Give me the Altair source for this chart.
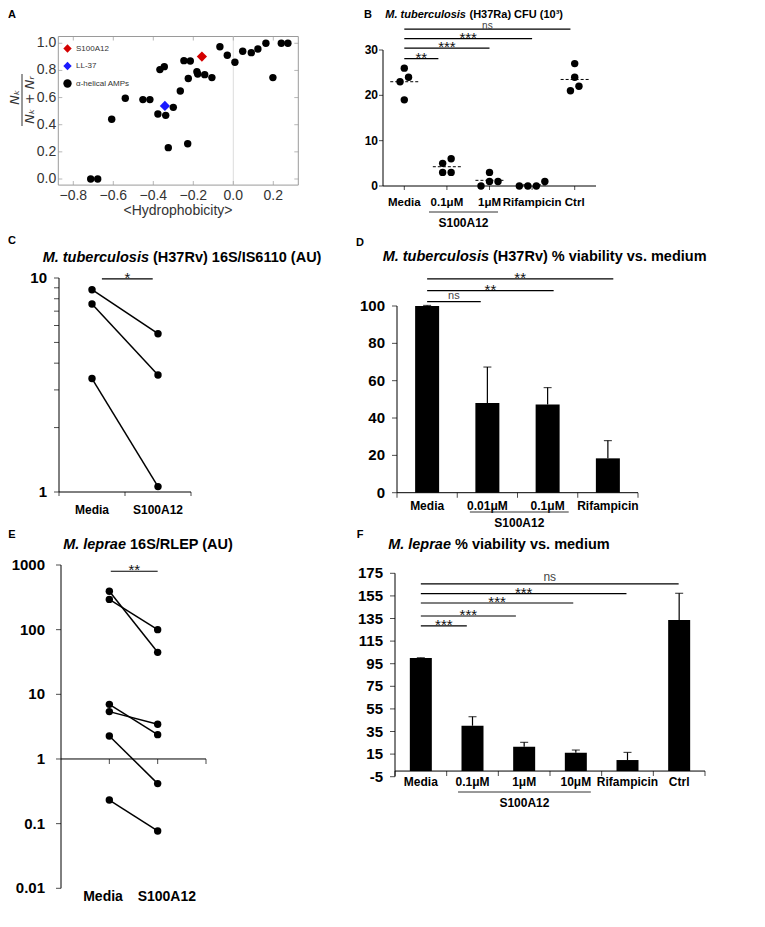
import altair as alt
import pandas as pd

W, H = 749, 900
FONT = "Liberation Sans"

# ======================= DATA =======================
# Panel A
A_amp_x = [-0.713, -0.678, -0.608, -0.540, -0.452, -0.417, -0.367, -0.345, -0.377, -0.338,
           -0.325, -0.300, -0.265, -0.247, -0.215, -0.225, -0.228, -0.182, -0.178, -0.143,
           -0.107, -0.067, -0.030, 0.008, 0.047, 0.090, 0.123, 0.163, 0.198, 0.240, 0.273]
A_amp_y = [0.0, 0.0, 0.44, 0.595, 0.585, 0.585, 0.806, 0.828, 0.479, 0.469,
           0.231, 0.528, 0.649, 0.872, 0.870, 0.740, 0.260, 0.791, 0.774, 0.769,
           0.747, 0.975, 0.912, 0.860, 0.941, 0.931, 0.958, 1.0, 0.747, 1.0, 1.0]
A_series = ["S100A12", "LL-37", "α-helical AMPs"]
A_hl_x = [-0.157, -0.342]
A_hl_y = [0.902, 0.538]
A_xticks = [-0.8, -0.6, -0.4, -0.2, 0.0, 0.2]
A_yticks = [0.0, 0.2, 0.4, 0.6, 0.8, 1.0]

# Panel B
B_groups = ["Media", "0.1μM", "1μM", "Rifampicin", "Ctrl"]
B_values = [[24, 26, 23, 19], [6, 5, 3, 3], [1, 3, 0, 1], [0, 0, 0, 1], [27, 24, 21, 22]]
B_sig_end = [0.8, 2.0, 3.0, 3.9]
B_sig_y = [28.1, 30.4, 32.5, 34.6]
B_sig_txt = ["**", "***", "***", "ns"]
B_yticks = [0, 10, 20, 30]
B_bracket = [0.58, 2.2]

# Panel C
C_groups = ["Media", "S100A12"]
C_media = [8.82, 7.56, 3.39]
C_s100 = [5.49, 3.52, 1.06]
C_sig_start = 0.65
C_sig_end = [1.42]
C_sig_y = [9.9]
C_sig_txt = ["*"]
C_yticks = [1, 2, 3, 4, 5, 6, 7, 8, 9, 10]
C_ylabels = [1, 10]

# Panel D
D_groups = ["Media", "0.01μM", "0.1μM", "Rifampicin"]
D_mean = [100, 48.0, 47.3, 18.4]
D_err = [0.3, 19.3, 9.0, 9.5]
D_sig_end = [1.39, 2.6, 3.59]
D_sig_y = [102.3, 108.2, 114.5]
D_sig_txt = ["ns", "**", "**"]
D_yticks = [0, 20, 40, 60, 80, 100]
D_bracket = [1.21, 2.85]

# Panel E
E_groups = ["Media", "S100A12"]
E_label_pos = [0.87, 2.19]
E_media = [392, 294, 7.0, 5.4, 2.27, 0.232]
E_s100 = [44.6, 100, 2.38, 3.44, 0.416, 0.077]
E_sig_start = 1.03
E_sig_end = [2.0]
E_sig_y = [800]
E_sig_txt = ["**"]
E_yticks = [0.01, 0.1, 1, 10, 100, 1000]

# Panel F
F_groups = ["Media", "0.1μM", "1μM", "10μM", "Rifampicin", "Ctrl"]
F_mean = [100, 40.1, 21.6, 16.2, 9.75, 133.7]
F_err = [0.3, 8.0, 3.8, 2.4, 6.75, 23.6]
F_sig_end = [1.39, 2.34, 3.45, 4.48, 5.49]
F_sig_y = [128.4, 137.2, 148.7, 157.0, 165.6]
F_sig_txt = ["***", "***", "***", "***", "ns"]
F_yticks = [-5, 15, 35, 55, 75, 95, 115, 135, 155, 175]
F_bracket = [1.22, 3.79]

# ======================= LAYOUT (pixels of the plot group) =======================
LAY = {
    "A": dict(xr=[50.3, 290.3], yr=[177.1, 28.5], xd=[-0.875, 0.325], yd=[-0.045, 1.05]),
    "B": dict(xr=[375, 588], yr=[178, 42], xd=[-0.5, 4.5], yd=[0, 30]),
    "C": dict(xr=[51, 183], yr=[484, 270], xd=[0, 2], yd=[1, 10], log=True),
    "D": dict(xr=[384, 635], yr=[484.7, 298], xd=[0, 4], yd=[0, 100]),
    "E": dict(xr=[53, 198], yr=[880.3, 557], xd=[0, 3], yd=[0.01, 1000], log=True),
    "F": dict(xr=[382, 702], yr=[768.7, 565.3], xd=[0, 6], yd=[-5, 175]),
}


def xs(p):
    L = LAY[p]
    return alt.Scale(domain=L["xd"], range=L["xr"], nice=False, zero=False)


def ys(p):
    L = LAY[p]
    if L.get("log"):
        return alt.Scale(type="log", domain=L["yd"], range=L["yr"], nice=False)
    return alt.Scale(domain=L["yd"], range=L["yr"], nice=False, zero=False)


def X(p, f):
    return alt.X(f, type="quantitative", scale=xs(p), axis=None)


def Y(p, f):
    return alt.Y(f, type="quantitative", scale=ys(p), axis=None)


def yaxis_marks(p, tick_values, label_values, labels, size=15, dx=-12, tick=5,
                color="black", weight="bold", domain=True):
    L = LAY[p]
    x0 = L["xd"][0]
    out = []
    if domain:
        out.append(alt.Chart(pd.DataFrame({"x": [x0], "a": [L["yd"][0]], "b": [L["yd"][1]]})).mark_rule(
            color="black", strokeWidth=1).encode(x=X(p, "x"), y=Y(p, "a"), y2="b"))
    if tick:
        out.append(alt.Chart(pd.DataFrame({"v": tick_values, "x": x0})).mark_tick(
            orient="horizontal", size=tick, thickness=1, xOffset=-tick / 2, color="black").encode(
            x=X(p, "x"), y=Y(p, "v")))
    out.append(alt.Chart(pd.DataFrame({"v": label_values, "t": labels, "x": x0})).mark_text(
        align="right", baseline="middle", dx=dx, font=FONT, fontSize=size, fontWeight=weight,
        color=color).encode(x=X(p, "x"), y=Y(p, "v"), text="t:N"))
    return out


def xaxis_marks(p, base, label_values, labels, size=12, dy=13, tick=0, tick_values=None,
                domain=True, color="black", weight="bold"):
    L = LAY[p]
    out = []
    if domain:
        out.append(alt.Chart(pd.DataFrame({"a": [L["xd"][0]], "b": [L["xd"][1]], "y": [base]})).mark_rule(
            color="black", strokeWidth=1).encode(x=X(p, "a"), x2="b", y=Y(p, "y")))
    if tick:
        out.append(alt.Chart(pd.DataFrame({"v": tick_values, "y": base})).mark_tick(
            orient="vertical", size=tick, thickness=1, yOffset=tick / 2, color="black").encode(
            x=X(p, "v"), y=Y(p, "y")))
    out.append(alt.Chart(pd.DataFrame({"v": label_values, "t": labels, "y": base})).mark_text(
        align="center", baseline="middle", dy=dy, font=FONT, fontSize=size, fontWeight=weight,
        color=color).encode(x=X(p, "v"), y=Y(p, "y"), text="t:N"))
    return out


def text_at(s, x, y, size=12, weight="bold", style="normal", align="center", color="black",
            font=FONT, angle=None):
    kw = dict(align=align, baseline="middle", fontSize=size, fontWeight=weight,
              fontStyle=style, color=color, font=font)
    if angle:
        kw["angle"] = angle
    return alt.Chart(pd.DataFrame({"t": [s]})).mark_text(**kw).encode(
        x=alt.value(x), y=alt.value(y), text="t:N")


def sig_layers(p, start, ends, yv, txts, ns_size=12, ns_dy=-3):
    df = pd.DataFrame({"s": start, "e": ends, "y": yv, "t": txts})
    df["m"] = (df["s"] + df["e"]) / 2
    out = [alt.Chart(df).mark_rule(color="black", strokeWidth=1.2).encode(
        x=X(p, "s"), x2="e", y=Y(p, "y"))]
    st = df[df["t"] != "ns"]
    ns = df[df["t"] == "ns"]
    if len(st):
        out.append(alt.Chart(st).mark_text(font=FONT, fontSize=15, baseline="alphabetic", dy=4,
                                           color="#111").encode(x=X(p, "m"), y=Y(p, "y"), text="t:N"))
    if len(ns):
        out.append(alt.Chart(ns).mark_text(font=FONT, fontSize=ns_size, baseline="alphabetic", dy=ns_dy,
                                           color="#444").encode(x=X(p, "m"), y=Y(p, "y"), text="t:N"))
    return out


def bracket(p, ab, line_px, text_px):
    df = pd.DataFrame({"a": [ab[0]], "b": [ab[1]], "t": ["S100A12"]})
    df["m"] = (df["a"] + df["b"]) / 2
    return [
        alt.Chart(df).mark_rule(color="#333", strokeWidth=1).encode(
            x=X(p, "a"), x2="b", y=alt.value(line_px)),
        alt.Chart(df).mark_text(font=FONT, fontSize=12, fontWeight="bold", baseline="middle").encode(
            x=X(p, "m"), y=alt.value(text_px), text="t:N"),
    ]


def fmt1(v):
    return f"{v:.1f}".replace("-", "−")


# ======================= PANEL A =======================
LA = LAY["A"]
A_frame = alt.Chart(pd.DataFrame({"x0": [LA["xd"][0]], "x1": [LA["xd"][1]],
                                  "y0": [LA["yd"][0]], "y1": [LA["yd"][1]]})).mark_rect(
    fillOpacity=0, stroke="#9a9a9a", strokeWidth=1).encode(
    x=X("A", "x0"), x2="x1", y=Y("A", "y0"), y2="y1")
A_zero = alt.Chart(pd.DataFrame({"x": [0.0], "y0": [LA["yd"][0]], "y1": [LA["yd"][1]]})).mark_rule(
    color="#dddddd", strokeWidth=1).encode(x=X("A", "x"), y=Y("A", "y0"), y2="y1")
A_tl = alt.Chart(pd.DataFrame({"v": A_yticks, "e": LA["xd"][0]})).mark_tick(
    orient="horizontal", size=4, thickness=1, color="#999", xOffset=2).encode(x=X("A", "e"), y=Y("A", "v"))
A_tr = alt.Chart(pd.DataFrame({"v": A_yticks, "e": LA["xd"][1]})).mark_tick(
    orient="horizontal", size=4, thickness=1, color="#999", xOffset=-2).encode(x=X("A", "e"), y=Y("A", "v"))
A_tb = alt.Chart(pd.DataFrame({"v": A_xticks, "e": LA["yd"][0]})).mark_tick(
    orient="vertical", size=4, thickness=1, color="#999", yOffset=-2).encode(x=X("A", "v"), y=Y("A", "e"))
A_tt = alt.Chart(pd.DataFrame({"v": A_xticks, "e": LA["yd"][1]})).mark_tick(
    orient="vertical", size=4, thickness=1, color="#999", yOffset=2).encode(x=X("A", "v"), y=Y("A", "e"))

A_leg = alt.Legend(orient="none", legendX=55, legendY=36, title=None, labelFont=FONT,
                   labelFontSize=8, labelColor="#333", symbolSize=70, rowPadding=8.5, padding=0,
                   labelOffset=4, direction="vertical", symbolStrokeWidth=0)
A_col = alt.Color("series:N", scale=alt.Scale(domain=A_series, range=["#d40000", "#1a1aff", "black"]),
                  legend=A_leg)
A_shp = alt.Shape("series:N", scale=alt.Scale(domain=A_series, range=["diamond", "diamond", "circle"]),
                  legend=A_leg)
A_amp = alt.Chart(pd.DataFrame({"x": A_amp_x, "y": A_amp_y, "series": A_series[2]})).mark_point(
    filled=True, opacity=1, strokeWidth=0, size=55).encode(
    x=X("A", "x"), y=Y("A", "y"), color=A_col, shape=A_shp)
A_hl = alt.Chart(pd.DataFrame({"x": A_hl_x, "y": A_hl_y, "series": A_series[:2]})).mark_point(
    filled=True, opacity=1, strokeWidth=0, size=105).encode(
    x=X("A", "x"), y=Y("A", "y"), color=A_col, shape=A_shp)
A_yax = yaxis_marks("A", [], A_yticks, [fmt1(v) for v in A_yticks], size=14, dx=-2, tick=0,
                    color="#333", weight="normal", domain=False)
A_xax = xaxis_marks("A", LA["yd"][0], A_xticks, [fmt1(v) for v in A_xticks], size=14, dy=11,
                    domain=False, color="#333", weight="normal")
panelA = alt.layer(A_frame, A_zero, A_tl, A_tr, A_tb, A_tt, A_amp, A_hl, *A_yax, *A_xax)

# ======================= PANEL B =======================
LB = LAY["B"]
B_xppu = (LB["xr"][1] - LB["xr"][0]) / (LB["xd"][1] - LB["xd"][0])
B_yppu = (LB["yr"][0] - LB["yr"][1]) / (LB["yd"][1] - LB["yd"][0])


def swarm(vals, yppu, gap):
    order = sorted(range(len(vals)), key=lambda i: vals[i])
    offs = [0.0] * len(vals)
    clusters, cur = [], [order[0]]
    for a, b in zip(order, order[1:]):
        if (vals[b] - vals[a]) * yppu < gap:
            cur.append(b)
        else:
            clusters.append(cur)
            cur = [b]
    clusters.append(cur)
    for c in clusters:
        n = len(c)
        for k, i in enumerate(c):
            offs[i] = (k - (n - 1) / 2) * gap
    return offs


B_rows, B_means = [], []
for gi, vals in enumerate(B_values):
    offs = swarm(vals, B_yppu, 8.5)
    for v, o in zip(vals, offs):
        B_rows.append({"x": gi + o / B_xppu, "v": v})
    B_means.append({"x0": gi - 0.33, "x1": gi + 0.33, "m": sum(vals) / len(vals)})

B_pos = list(range(len(B_groups)))
B_pts = alt.Chart(pd.DataFrame(B_rows)).mark_circle(size=55, color="black", opacity=1).encode(
    x=X("B", "x"), y=Y("B", "v"))
B_mean = alt.Chart(pd.DataFrame(B_means)).mark_rule(color="black", strokeWidth=1, strokeDash=[3, 2]).encode(
    x=X("B", "x0"), x2="x1", y=Y("B", "m"))
panelB = alt.layer(
    *yaxis_marks("B", B_yticks, B_yticks, [str(v) for v in B_yticks], size=12, dx=-5, tick=4),
    *xaxis_marks("B", 0, B_pos, B_groups, size=11.5, dy=17, tick=4, tick_values=B_pos),
    B_pts, B_mean, *sig_layers("B", 0.0, B_sig_end, B_sig_y, B_sig_txt, ns_size=10, ns_dy=0.3),
    *bracket("B", B_bracket, 204, 215))

# ======================= PANEL C =======================
LC = LAY["C"]


def pairs_df(a, b, xa, xb):
    rows = []
    for i, (u, v) in enumerate(zip(a, b)):
        rows += [{"pair": i, "x": xa, "v": u}, {"pair": i, "x": xb, "v": v}]
    return pd.DataFrame(rows)


C_df = pairs_df(C_media, C_s100, 0.5, 1.5)
C_line = alt.Chart(C_df).mark_line(color="black", strokeWidth=1.5).encode(
    x=X("C", "x"), y=Y("C", "v"), detail="pair:N")
C_pts = alt.Chart(C_df).mark_circle(size=55, color="black", opacity=1).encode(x=X("C", "x"), y=Y("C", "v"))
panelC = alt.layer(
    *yaxis_marks("C", C_yticks, C_ylabels, [str(v) for v in C_ylabels], size=15, dx=-12, tick=5),
    *xaxis_marks("C", LC["yd"][0], [0.5, 1.5], C_groups, size=12, dy=18, tick=4, tick_values=[0, 1, 2]),
    C_line, C_pts, *sig_layers("C", C_sig_start, C_sig_end, C_sig_y, C_sig_txt))

# ======================= PANEL D =======================
D_pos = [i + 0.5 for i in range(len(D_groups))]
D_df = pd.DataFrame({"x": D_pos, "v": D_mean,
                     "e": [m + e for m, e in zip(D_mean, D_err)], "base": 0.0})
D_bar = alt.Chart(D_df).mark_bar(size=24, color="black").encode(x=X("D", "x"), y=Y("D", "v"), y2="base")
D_eb = alt.Chart(D_df).mark_rule(color="black", strokeWidth=1.2).encode(x=X("D", "x"), y=Y("D", "v"), y2="e")
D_cap = alt.Chart(D_df).mark_tick(orient="horizontal", size=8, thickness=1.2, color="black").encode(
    x=X("D", "x"), y=Y("D", "e"))
panelD = alt.layer(
    D_bar, D_eb, D_cap,
    *yaxis_marks("D", D_yticks, D_yticks, [str(v) for v in D_yticks], size=15, dx=-12, tick=5),
    *xaxis_marks("D", 0, D_pos, D_groups, size=12, dy=13, tick=5, tick_values=list(range(len(D_groups) + 1))),
    *sig_layers("D", 0.5, D_sig_end, D_sig_y, D_sig_txt, ns_size=11),
    *bracket("D", D_bracket, 504, 515))

# ======================= PANEL E =======================
LE = LAY["E"]
E_df = pairs_df(E_media, E_s100, 1, 2)
E_line = alt.Chart(E_df).mark_line(color="black", strokeWidth=1.5).encode(
    x=X("E", "x"), y=Y("E", "v"), detail="pair:N")
E_pts = alt.Chart(E_df).mark_circle(size=55, color="black", opacity=1).encode(x=X("E", "x"), y=Y("E", "v"))
E_one = alt.Chart(pd.DataFrame({"a": [LE["xd"][0]], "b": [LE["xd"][1]], "y": [1.0]})).mark_rule(
    color="black", strokeWidth=1).encode(x=X("E", "a"), x2="b", y=Y("E", "y"))
E_ticks = alt.Chart(pd.DataFrame({"b": [1, 2, 3], "base": 1.0})).mark_tick(
    orient="vertical", size=5, thickness=1, yOffset=2.5, color="black").encode(x=X("E", "b"), y=Y("E", "base"))
panelE = alt.layer(
    *yaxis_marks("E", E_yticks, E_yticks, [f"{v:g}" for v in E_yticks], size=15, dx=-16, tick=5),
    *xaxis_marks("E", LE["yd"][0], E_label_pos, E_groups, size=14, dy=9, domain=False),
    E_one, E_ticks, E_line, E_pts, *sig_layers("E", E_sig_start, E_sig_end, E_sig_y, E_sig_txt))

# ======================= PANEL F =======================
F_pos = [i + 0.5 for i in range(len(F_groups))]
F_df = pd.DataFrame({"x": F_pos, "v": F_mean,
                     "e": [m + e for m, e in zip(F_mean, F_err)], "base": 0.0})
F_bar = alt.Chart(F_df).mark_bar(size=22, color="black").encode(x=X("F", "x"), y=Y("F", "v"), y2="base")
F_eb = alt.Chart(F_df).mark_rule(color="black", strokeWidth=1.2).encode(x=X("F", "x"), y=Y("F", "v"), y2="e")
F_cap = alt.Chart(F_df).mark_tick(orient="horizontal", size=8, thickness=1.2, color="black").encode(
    x=X("F", "x"), y=Y("F", "e"))
panelF = alt.layer(
    F_bar, F_eb, F_cap,
    *yaxis_marks("F", F_yticks, F_yticks, [str(v) for v in F_yticks], size=15, dx=-12, tick=5),
    *xaxis_marks("F", 0, F_pos, F_groups, size=12, dy=11, tick=5, tick_values=list(range(len(F_groups) + 1))),
    *sig_layers("F", 0.5, F_sig_end, F_sig_y, F_sig_txt),
    *bracket("F", F_bracket, 784, 795))

# ======================= TEXT =======================
texts = [
    text_at("A", 4, 7, 11), text_at("B", 360, 7, 11), text_at("C", 4, 233, 11),
    text_at("D", 352, 235, 11), text_at("E", 4, 527, 11), text_at("F", 352, 527, 11),
    text_at("<Hydrophobicity>", 170, 203, 14, weight="normal", color="#333"),
    text_at("Nₖ", 7, 89, 13, weight="normal", style="italic", font="DejaVu Sans", color="#333", angle=270),
    text_at("Nₖ + Nᵣ", 21.5, 92, 13, weight="normal", style="italic", font="DejaVu Sans", color="#333", angle=270),
    text_at("M. tuberculosis", 458, 6.9, 11, style="italic", align="right"),
    text_at("(H37Ra) CFU (10³)", 461.5, 6.9, 11, align="left"),
    text_at("M. tuberculosis", 141, 250, 14.5, style="italic", align="right"),
    text_at("(H37Rv) 16S/IS6110 (AU)", 145, 250, 14.5, align="left"),
    text_at("M. tuberculosis", 481, 249, 14.5, style="italic", align="right"),
    text_at("(H37Rv) % viability vs. medium", 485, 249, 14.5, align="left"),
    text_at("M. leprae", 118, 537, 14.5, style="italic", align="right"),
    text_at("16S/RLEP (AU)", 122, 537, 14.5, align="left"),
    text_at("M. leprae", 443, 537, 14.5, style="italic", align="right"),
    text_at("% viability vs. medium", 447, 537, 14.5, align="left"),
]
frac_bar = alt.Chart(pd.DataFrame({"k": [0]})).mark_rule(color="#333", strokeWidth=1).encode(
    x=alt.value(14), y=alt.value(66), y2=alt.value(118))

chart = alt.layer(panelA, panelB, panelC, panelD, panelE, panelF, frac_bar, *texts).resolve_scale(
    x="independent", y="independent", color="independent", shape="independent"
).properties(
    width=W, height=H, autosize=alt.AutoSizeParams(type="none"), padding=0
).configure_view(stroke=None)

chart.save("out.html", embed_options={"renderer": "svg", "actions": False})
